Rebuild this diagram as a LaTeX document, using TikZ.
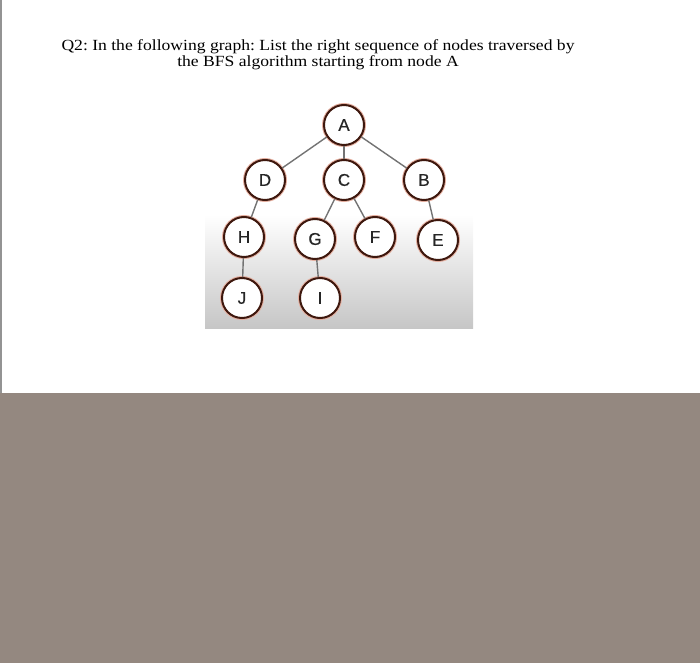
\documentclass[tikz,border=0pt]{standalone}
\usepackage{fontspec}
\setmainfont{Liberation Serif}
\newfontfamily\labelfont[FakeBold=0.6]{Liberation Sans}
\definecolor{ringbrown}{RGB}{62,24,14}
\definecolor{ringhalo}{RGB}{228,175,160}
\definecolor{edgegray}{RGB}{115,115,115}
\definecolor{lowergray}{RGB}{148,136,128}
\definecolor{panelgray}{RGB}{198,198,198}
\begin{document}
\begin{tikzpicture}[x=1pt, y=-1pt,
    vertex/.style={circle, draw=ringbrown, line width=2pt, fill=white,
        minimum size=40pt, inner sep=0pt, text=black!85,
        font=\labelfont\fontsize{17}{17}\selectfont,
        preaction={draw=ringhalo, line width=4pt}},
    link/.style={draw=edgegray, line width=1.4pt}]
    \useasboundingbox (0,0) rectangle (700,663);
    \fill[lowergray] (0,393) rectangle (700,663);
    \draw[line width=1.5pt, gray!85] (0.75,0) -- (0.75,393);
    \shade[top color=white, bottom color=panelgray] (205,215) rectangle (473,328);
    \node (title) at (318,55) {\frenchspacing\fontsize{15.5}{16.5}\selectfont
        \scalebox{1.135}[1]{\begin{tabular}{@{}c@{}}
        Q2: In the following graph: List the right sequence of nodes traversed by\\
        the BFS algorithm starting from node A\end{tabular}}};
    \node[vertex] (A) at (344,125) {A};
    \node[vertex] (D) at (265,180) {D};
    \node[vertex] (C) at (344,180) {C};
    \node[vertex] (B) at (424,180) {B};
    \node[vertex] (H) at (244,237) {H};
    \node[vertex] (G) at (315,239) {G};
    \node[vertex] (F) at (375,237) {F};
    \node[vertex] (E) at (438,240) {E};
    \node[vertex] (J) at (242,298) {J};
    \node[vertex] (I) at (320,298) {I};
    \draw[link]
    (A) edge (D)
    (A) edge (C)
    (A) edge (B)
    (D) edge (H)
    (C) edge (G)
    (C) edge (F)
    (B) edge (E)
    (H) edge (J)
    (G) edge (I)
;

\end{tikzpicture}
\end{document}
